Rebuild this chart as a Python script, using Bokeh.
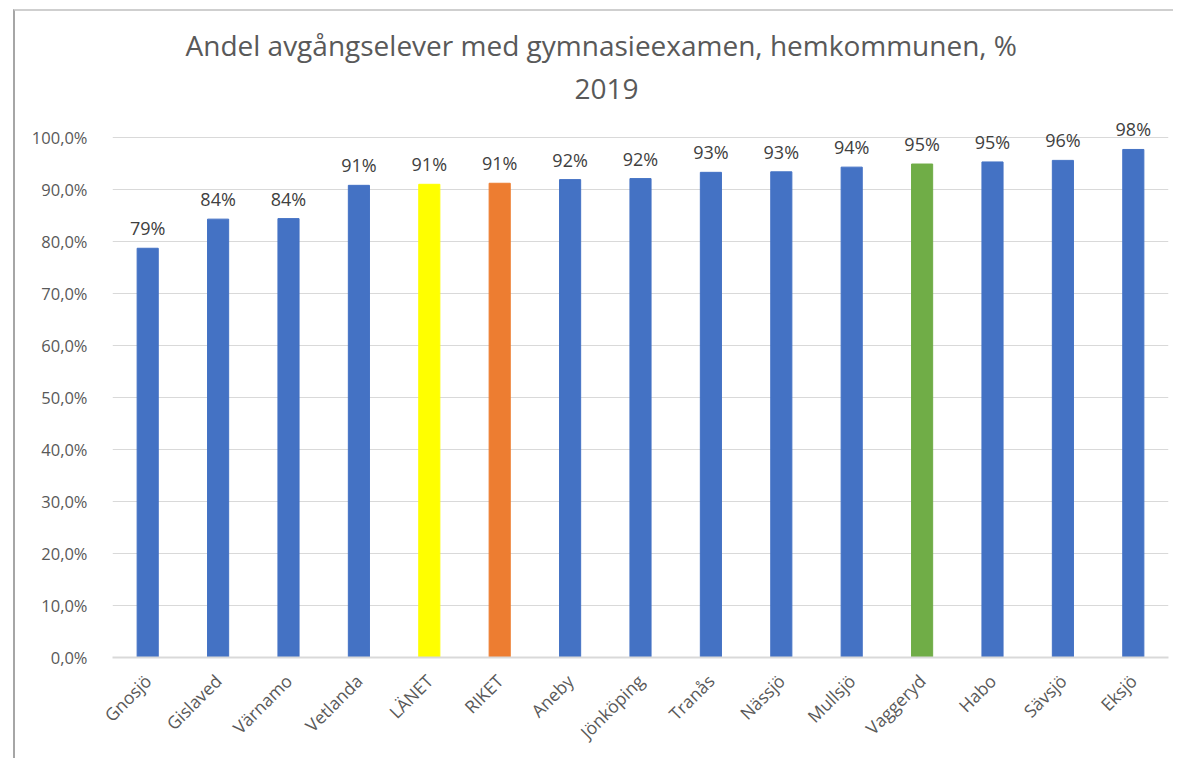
import math
from bokeh.plotting import figure
from bokeh.models import ColumnDataSource, FixedTicker, Title
from bokeh.embed import file_html
from bokeh.resources import INLINE

categories = ["Gnosjö", "Gislaved", "Värnamo", "Vetlanda", "LÄNET", "RIKET", "Aneby",
              "Jönköping", "Tranås", "Nässjö", "Mullsjö", "Vaggeryd", "Habo", "Sävsjö", "Eksjö"]
values = [78.7, 84.3, 84.4, 90.8, 91.0, 91.2, 91.9, 92.1, 93.3, 93.4, 94.3, 94.9, 95.3, 95.6, 97.7]
colors = ["#4472C4", "#4472C4", "#4472C4", "#4472C4", "#FFFF00", "#ED7D31", "#4472C4",
          "#4472C4", "#4472C4", "#4472C4", "#4472C4", "#70AD47", "#4472C4", "#4472C4", "#4472C4"]
labels = [f"{int(round(v))}%" for v in values]
yticks = [0, 10, 20, 30, 40, 50, 60, 70, 80, 90, 100]
ytick_labels = ["0,0%", "10,0%", "20,0%", "30,0%", "40,0%", "50,0%", "60,0%", "70,0%",
                "80,0%", "90,0%", "100,0%"]
title_main = "Andel avgångselever med gymnasieexamen, hemkommunen, %"
title_year = "2019"

src = ColumnDataSource(dict(cat=categories, val=values, col=colors, lab=labels))

FONT = "Open Sans"
p = figure(x_range=categories, y_range=(0, 105), width=1160, height=749,
           output_backend="svg", toolbar_location=None,
           min_border_left=97, min_border_right=7, min_border_top=100, min_border_bottom=103,
           margin=(9, 0, 0, 13), border_fill_color=None, background_fill_color="white",
           styles={"border-top": "2px solid #cfcfcf", "border-left": "2px solid #a6a6a6"})

p.add_layout(Title(text=title_year, text_font=FONT, text_font_size="28px", text_color="#595959",
                   text_font_style="normal", align="left", offset=462, standoff=26), "above")
p.add_layout(Title(text=title_main, text_font=FONT, text_font_size="28px", text_color="#595959",
                   text_font_style="normal", align="left", offset=73, standoff=0), "above")

p.vbar(x="cat", top="val", width=0.3, color="col", source=src)
p.text(x="cat", y="val", text="lab", source=src, text_align="center", text_baseline="bottom",
       y_offset=-8, text_font_size="18px", text_color="#404040", text_font={"value": FONT})

p.yaxis.ticker = FixedTicker(ticks=yticks)
p.yaxis.major_label_overrides = {t: l for t, l in zip(yticks, ytick_labels)}
p.yaxis.axis_line_color = None
p.yaxis.major_tick_line_color = None
p.yaxis.minor_tick_line_color = None
p.yaxis.major_label_text_font = FONT
p.yaxis.major_label_text_font_size = "16.5px"
p.yaxis.major_label_text_color = "#595959"
p.yaxis.major_label_standoff = 19

p.xaxis.axis_line_color = "#d9d9d9"
p.xaxis.axis_line_width = 2
p.xaxis.major_tick_line_color = None
p.xaxis.major_label_orientation = math.pi / 4
p.xaxis.major_label_text_font = FONT
p.xaxis.major_label_text_font_size = "17.5px"
p.xaxis.major_label_text_color = "#595959"
p.xaxis.major_label_standoff = 14

p.xgrid.grid_line_color = None
p.ygrid.grid_line_color = "#d9d9d9"
p.ygrid.grid_line_width = 1
p.ygrid.ticker = FixedTicker(ticks=yticks)
p.outline_line_color = None
p.x_range.range_padding = 0

open("out.html", "w").write(file_html(p, INLINE))
